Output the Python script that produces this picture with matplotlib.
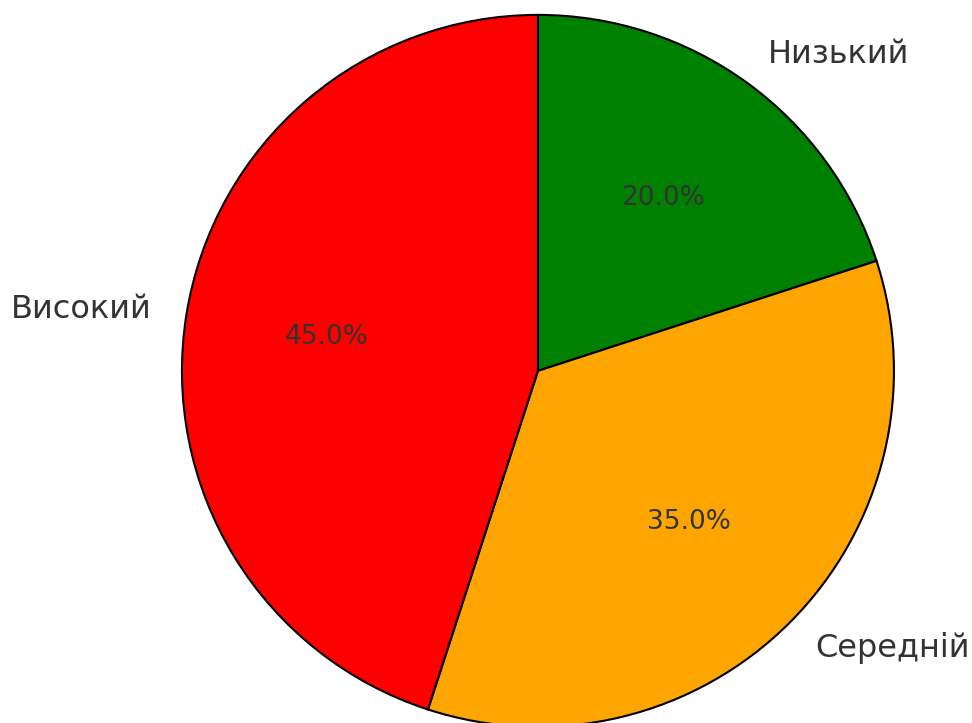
import matplotlib.pyplot as plt

labels = ['Низький', 'Середній', 'Високий']
shares = [20, 35, 45]
colors = ['green', 'orange', 'red']

fig = plt.figure(figsize=(9.72, 7.23), dpi=100)
ax = fig.add_axes([0.1872, -0.0055, 0.7325, 0.985])

wedges, texts, autotexts = ax.pie(
    shares, labels=labels, colors=colors, autopct='%1.1f%%',
    startangle=90, counterclock=False,
    wedgeprops={'edgecolor': 'black', 'linewidth': 1.5},
    textprops={'fontsize': 23, 'color': '#333333'})
for t in autotexts:
    t.set_fontsize(19)

ax.set_xlim(-1, 1)
ax.set_ylim(-1, 1)
ax.set_aspect('equal')

fig.savefig('out.png', dpi=100)
